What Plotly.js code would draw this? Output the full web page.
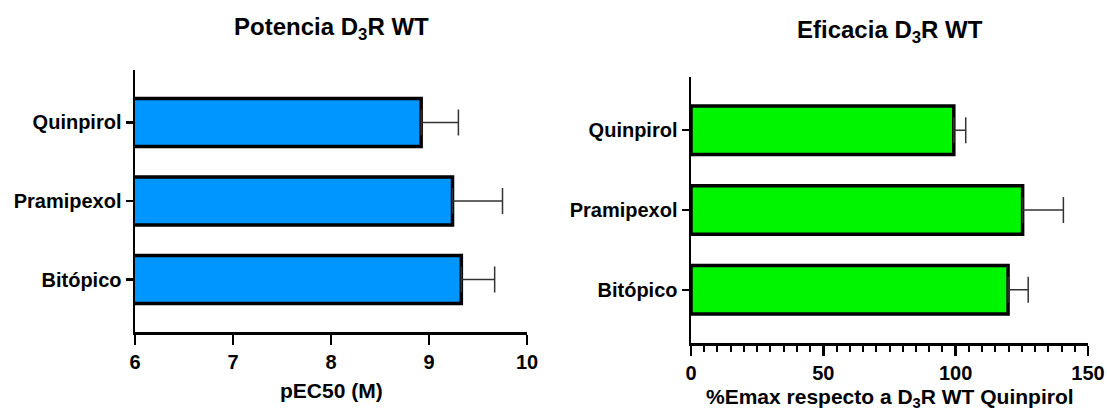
<!DOCTYPE html>
<html>
<head>
<meta charset="utf-8">
<script src="https://cdn.plot.ly/plotly-3.0.1.min.js"></script>
<style>html,body{margin:0;padding:0;background:#fff;}#chart{width:1107px;height:413px;}</style>
</head>
<body>
<div id="chart"></div>
<script>
// ---- data ----
const categories = ['Quinpirol', 'Pramipexol', 'Bitópico'];
const potencia = [8.92, 9.24, 9.33];
const potenciaErr = [0.38, 0.51, 0.34];
const eficacia = [99.3, 125.3, 119.8];
const eficaciaErr = [4.5, 15.4, 7.6];
const potenciaTicks = [6, 7, 8, 9, 10];
const eficaciaTicks = [0, 50, 100, 150];

const FONT = 'Liberation Sans, Arial, Helvetica, sans-serif';
const zeros = arr => arr.map(() => 0);

const errStyle = {type: 'data', symmetric: false, color: '#333333', thickness: 1.5, width: 13};

const traces = [
  {
    type: 'bar', orientation: 'h', x: potencia, y: categories,
    xaxis: 'x', yaxis: 'y', width: 0.61,
    marker: {color: '#0096ff', line: {color: '#000000', width: 3.5}},
    error_x: Object.assign({array: potenciaErr, arrayminus: zeros(potenciaErr)}, errStyle),
    hoverinfo: 'skip'
  },
  {
    type: 'bar', orientation: 'h', x: eficacia, y: categories,
    xaxis: 'x2', yaxis: 'y2', width: 0.61,
    marker: {color: '#00f500', line: {color: '#000000', width: 3.5}},
    error_x: Object.assign({array: eficaciaErr, arrayminus: zeros(eficaciaErr)}, errStyle),
    hoverinfo: 'skip'
  }
];

const tickFont = {family: FONT, size: 20, color: '#000', weight: 'bold'};
const titleFont = {family: FONT, size: 21, color: '#000', weight: 'bold'};

const W = 1107, H = 413;
const px = v => v / W;
const py = v => 1 - v / H;

const layout = {
  width: W, height: H,
  margin: {l: 0, r: 0, t: 0, b: 0},
  paper_bgcolor: '#fff', plot_bgcolor: 'rgba(0,0,0,0)',
  showlegend: false,
  bargap: 0,
  xaxis: {
    domain: [px(135), px(527)], anchor: 'y',
    range: [6, 10], tickvals: potenciaTicks, ticktext: potenciaTicks.map(String),
    showgrid: false, zeroline: false, showline: true, linecolor: '#000', linewidth: 2.5,
    ticks: 'outside', ticklen: 10, tickwidth: 2.5, tickcolor: '#000',
    tickfont: tickFont
  },
  yaxis: {
    domain: [py(332), py(70)], anchor: 'x',
    type: 'category', range: [2.667, -0.667],
    showgrid: false, zeroline: false, showline: true, linecolor: '#000', linewidth: 2.5,
    ticks: 'outside', ticklen: 7, tickwidth: 2.5, tickcolor: '#000',
    tickfont: tickFont
  },
  xaxis2: {
    domain: [px(691), px(1088)], anchor: 'y2',
    range: [0, 150], tickvals: eficaciaTicks, ticktext: eficaciaTicks.map(String),
    showgrid: false, zeroline: false, showline: true, linecolor: '#000', linewidth: 2.5,
    ticks: 'outside', ticklen: 10, tickwidth: 2.5, tickcolor: '#000',
    minor: {dtick: 5, ticks: 'outside', ticklen: 6, tickwidth: 2, tickcolor: '#000', showgrid: false},
    tickfont: tickFont
  },
  yaxis2: {
    domain: [py(343), py(77)], anchor: 'x2',
    type: 'category', range: [2.667, -0.667],
    showgrid: false, zeroline: false, showline: true, linecolor: '#000', linewidth: 2.5,
    ticks: 'outside', ticklen: 7, tickwidth: 2.5, tickcolor: '#000',
    tickfont: tickFont
  },
  annotations: [
    {text: 'Potencia D<sub>3</sub>R WT', xref: 'paper', yref: 'paper',
     x: px(331), y: py(29), xanchor: 'center', yanchor: 'middle', showarrow: false,
     font: {family: FONT, size: 24, color: '#000', weight: 'bold'}},
    {text: 'Eficacia D<sub>3</sub>R WT', xref: 'paper', yref: 'paper',
     x: px(890), y: py(31), xanchor: 'center', yanchor: 'middle', showarrow: false,
     font: {family: FONT, size: 24, color: '#000', weight: 'bold'}},
    {text: 'pEC50 (M)', xref: 'paper', yref: 'paper',
     x: px(331), y: py(390), xanchor: 'center', yanchor: 'middle', showarrow: false,
     font: titleFont},
    {text: '%Emax respecto a D<sub>3</sub>R WT Quinpirol', xref: 'paper', yref: 'paper',
     x: px(890), y: py(398), xanchor: 'center', yanchor: 'middle', showarrow: false,
     font: titleFont}
  ]
};

Plotly.newPlot('chart', traces, layout, {staticPlot: true, displayModeBar: false});
</script>
</body>
</html>
